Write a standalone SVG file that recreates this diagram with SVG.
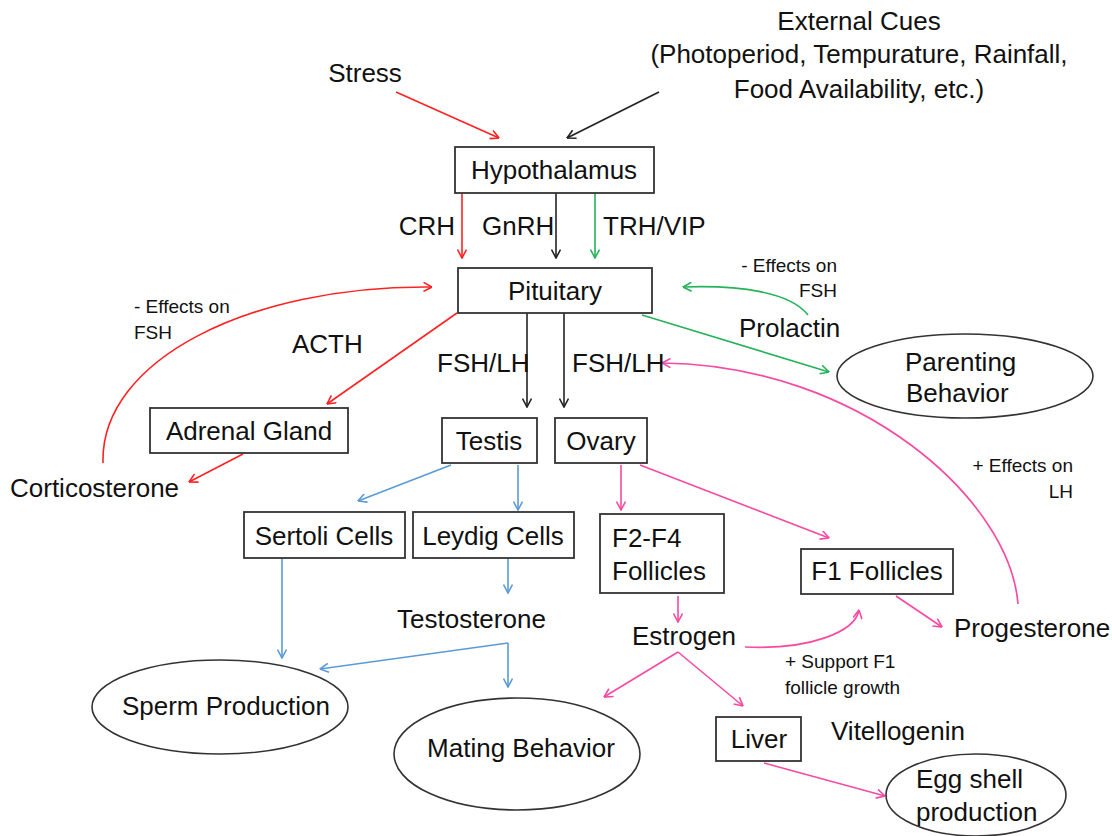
<svg xmlns="http://www.w3.org/2000/svg" width="1112" height="836" viewBox="0 0 1112 836">
<style>
text{font-family:"Liberation Sans",Arial,sans-serif;fill:#111}
.m{font-size:26px}
.s{font-size:19px}
.c{text-anchor:middle}
.e{text-anchor:end}
.box{fill:#fff;stroke:#333;stroke-width:1.8}
.ell{fill:#fff;stroke:#333;stroke-width:1.6}
.ln{fill:none;stroke-width:1.6}
.r{stroke:#F22}
.k{stroke:#222}
.g{stroke:#25B35A}
.p{stroke:#F74AA0}
.b{stroke:#5B9BD5}
</style>
<defs>
<marker id="ar" viewBox="0 0 10 10" refX="9.5" refY="5" markerWidth="10" markerHeight="10" markerUnits="userSpaceOnUse" orient="auto"><path d="M1,0.5 L9.5,5 L1,9.5" fill="none" stroke="#F22" stroke-width="1.6"/></marker>
<marker id="ak" viewBox="0 0 10 10" refX="9.5" refY="5" markerWidth="10" markerHeight="10" markerUnits="userSpaceOnUse" orient="auto"><path d="M1,0.5 L9.5,5 L1,9.5" fill="none" stroke="#222" stroke-width="1.6"/></marker>
<marker id="ag" viewBox="0 0 10 10" refX="9.5" refY="5" markerWidth="10" markerHeight="10" markerUnits="userSpaceOnUse" orient="auto"><path d="M1,0.5 L9.5,5 L1,9.5" fill="none" stroke="#25B35A" stroke-width="1.6"/></marker>
<marker id="ap" viewBox="0 0 10 10" refX="9.5" refY="5" markerWidth="10" markerHeight="10" markerUnits="userSpaceOnUse" orient="auto"><path d="M1,0.5 L9.5,5 L1,9.5" fill="none" stroke="#F74AA0" stroke-width="1.6"/></marker>
<marker id="ab" viewBox="0 0 10 10" refX="9.5" refY="5" markerWidth="10" markerHeight="10" markerUnits="userSpaceOnUse" orient="auto"><path d="M1,0.5 L9.5,5 L1,9.5" fill="none" stroke="#5B9BD5" stroke-width="1.6"/></marker>
</defs>
<rect width="1112" height="836" fill="#fff"/>

<g id="connectors">
<path class="ln r" d="M396,92 L499,138" marker-end="url(#ar)"/>
<path class="ln k" d="M659,92 L567,138" marker-end="url(#ak)"/>
<path class="ln r" d="M462,193 L462,258" marker-end="url(#ar)"/>
<path class="ln k" d="M556,193 L556,258" marker-end="url(#ak)"/>
<path class="ln g" d="M595,193 L595,258" marker-end="url(#ag)"/>
<path class="ln r" d="M103,463 C100,360 250,285 432,287" marker-end="url(#ar)"/>
<path class="ln r" d="M457,313 L327,404" marker-end="url(#ar)"/>
<path class="ln r" d="M243,454 L189,482" marker-end="url(#ar)"/>
<path class="ln k" d="M527,313 L527,407" marker-end="url(#ak)"/>
<path class="ln k" d="M564,313 L564,407" marker-end="url(#ak)"/>
<path class="ln g" d="M808,315 C790,292 740,285 683,287" marker-end="url(#ag)"/>
<path class="ln g" d="M642,315 L829,372" marker-end="url(#ag)"/>
<path class="ln p" d="M1018,604 C1010,500 860,365 662,363" marker-end="url(#ap)"/>
<path class="ln b" d="M451,465 L358,501" marker-end="url(#ab)"/>
<path class="ln b" d="M518,465 L518,510" marker-end="url(#ab)"/>
<path class="ln b" d="M282,558 L282,658" marker-end="url(#ab)"/>
<path class="ln b" d="M508,558 L508,593" marker-end="url(#ab)"/>
<path class="ln b" d="M508,643 L320,669" marker-end="url(#ab)"/>
<path class="ln b" d="M508,643 L508,687" marker-end="url(#ab)"/>
<path class="ln p" d="M621,465 L621,510" marker-end="url(#ap)"/>
<path class="ln p" d="M640,465 L829,538" marker-end="url(#ap)"/>
<path class="ln p" d="M678,596 L678,622" marker-end="url(#ap)"/>
<path class="ln p" d="M745,647 C810,650 855,632 859,610" marker-end="url(#ap)"/>
<path class="ln p" d="M896,596 L942,627" marker-end="url(#ap)"/>
<path class="ln p" d="M678,652 L604,697" marker-end="url(#ap)"/>
<path class="ln p" d="M678,652 L743,706" marker-end="url(#ap)"/>
<path class="ln p" d="M764,763 L885,796" marker-end="url(#ap)"/>
</g>

<g id="edge-labels">
<text class="m e" x="455" y="235">CRH</text>
<text class="m" x="482" y="235">GnRH</text>
<text class="m" x="603" y="235">TRH/VIP</text>
<text class="m" x="292" y="353">ACTH</text>
<text class="m" x="437" y="372">FSH/LH</text>
<text class="m" x="572" y="372">FSH/LH</text>
<text class="s" x="134" y="313">- Effects on</text>
<text class="s" x="134" y="339">FSH</text>
<text class="s e" x="837" y="272">- Effects on</text>
<text class="s e" x="837" y="297">FSH</text>
<text class="s e" x="1073" y="472">+ Effects on</text>
<text class="s e" x="1073" y="498">LH</text>
<text class="s" x="785" y="668">+ Support F1</text>
<text class="s" x="785" y="694">follicle growth</text>
</g>

<g id="stress"><text class="m c" x="365" y="82">Stress</text></g>
<g id="external-cues">
<text class="m c" x="859" y="30">External Cues</text>
<text class="m c" x="859" y="63">(Photoperiod, Tempurature, Rainfall,</text>
<text class="m c" x="859" y="98">Food Availability, etc.)</text>
</g>
<g id="hypothalamus"><rect class="box" x="455" y="147" width="199" height="46"/><text class="m c" x="554" y="179">Hypothalamus</text></g>
<g id="pituitary"><rect class="box" x="458" y="268" width="194" height="45"/><text class="m c" x="555" y="300">Pituitary</text></g>
<g id="prolactin"><text class="m" x="739" y="337">Prolactin</text></g>
<g id="parenting-behavior"><ellipse class="ell" cx="965" cy="376" rx="128" ry="42"/><text class="m" x="905" y="371">Parenting</text><text class="m" x="906" y="402">Behavior</text></g>
<g id="adrenal-gland"><rect class="box" x="150" y="408" width="198" height="45"/><text class="m c" x="249" y="440">Adrenal Gland</text></g>
<g id="corticosterone"><text class="m" x="10" y="497">Corticosterone</text></g>
<g id="testis"><rect class="box" x="442" y="418" width="95" height="45"/><text class="m c" x="489" y="450">Testis</text></g>
<g id="ovary"><rect class="box" x="555" y="418" width="92" height="45"/><text class="m c" x="601" y="450">Ovary</text></g>
<g id="sertoli-cells"><rect class="box" x="244" y="512" width="161" height="46"/><text class="m c" x="324" y="545">Sertoli Cells</text></g>
<g id="leydig-cells"><rect class="box" x="413" y="512" width="161" height="46"/><text class="m c" x="493" y="545">Leydig Cells</text></g>
<g id="testosterone"><text class="m" x="397" y="628">Testosterone</text></g>
<g id="sperm-production"><ellipse class="ell" cx="220" cy="707" rx="128" ry="47"/><text class="m c" x="226" y="715">Sperm Production</text></g>
<g id="mating-behavior"><ellipse class="ell" cx="517" cy="754" rx="123" ry="56"/><text class="m c" x="521" y="757">Mating Behavior</text></g>
<g id="f2-f4-follicles"><rect class="box" x="600" y="514" width="124" height="79"/><text class="m" x="612" y="547">F2-F4</text><text class="m" x="612" y="580">Follicles</text></g>
<g id="f1-follicles"><rect class="box" x="801" y="549" width="152" height="45"/><text class="m c" x="877" y="580">F1 Follicles</text></g>
<g id="estrogen"><text class="m" x="632" y="645">Estrogen</text></g>
<g id="progesterone"><text class="m" x="954" y="637">Progesterone</text></g>
<g id="liver"><rect class="box" x="716" y="717" width="85" height="44"/><text class="m c" x="759" y="748">Liver</text></g>
<g id="vitellogenin"><text class="m" x="831" y="740">Vitellogenin</text></g>
<g id="egg-shell-production"><ellipse class="ell" cx="976" cy="795" rx="90" ry="41"/><text class="m" x="916" y="788">Egg shell</text><text class="m" x="916" y="821">production</text></g>
</svg>
